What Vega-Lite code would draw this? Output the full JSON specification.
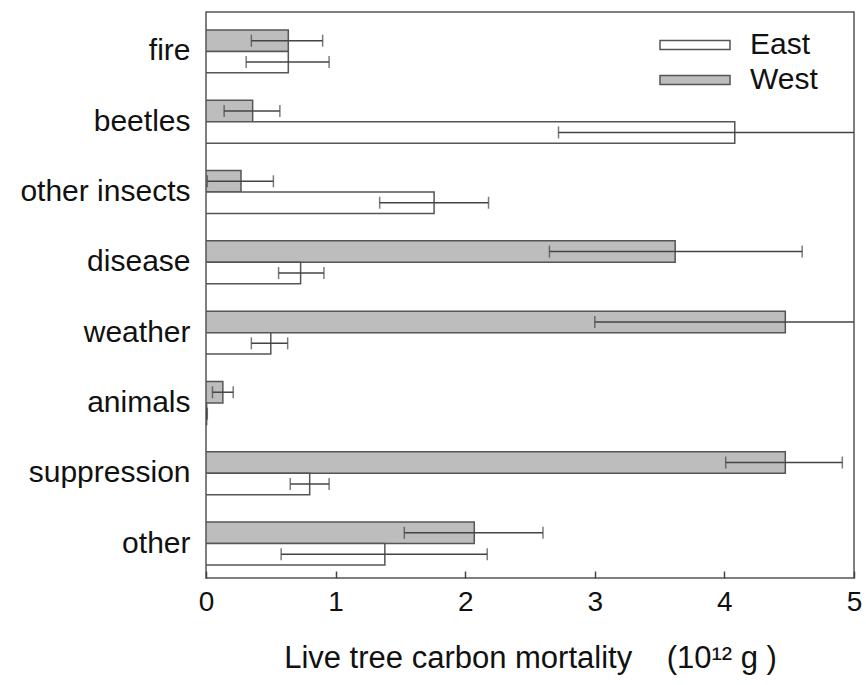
{
  "$schema": "https://vega.github.io/schema/vega-lite/v6.json",
  "width": 648,
  "height": 566,
  "autosize": {"type": "none"},
  "padding": {"left": 206, "top": 12, "right": 12, "bottom": 107},
  "background": "white",
  "config": {
    "font": "Liberation Sans",
    "view": {"stroke": "#555", "strokeWidth": 1.5},
    "axis": {"labelFont": "Liberation Sans", "titleFont": "Liberation Sans", "labelColor": "#111", "titleColor": "#111", "titleFontWeight": "normal", "grid": false}
  },
  "data": {
    "values": [
      {"cause": "fire", "region": "West", "value": 0.635, "lo": 0.35, "hi": 0.90},
      {"cause": "fire", "region": "East", "value": 0.635, "lo": 0.31, "hi": 0.95},
      {"cause": "beetles", "region": "West", "value": 0.36, "lo": 0.14, "hi": 0.57},
      {"cause": "beetles", "region": "East", "value": 4.08, "lo": 2.72, "hi": 5.44},
      {"cause": "other insects", "region": "West", "value": 0.27, "lo": 0.01, "hi": 0.52},
      {"cause": "other insects", "region": "East", "value": 1.76, "lo": 1.34, "hi": 2.18},
      {"cause": "disease", "region": "West", "value": 3.62, "lo": 2.65, "hi": 4.60},
      {"cause": "disease", "region": "East", "value": 0.73, "lo": 0.56, "hi": 0.91},
      {"cause": "weather", "region": "West", "value": 4.47, "lo": 3.00, "hi": 5.94},
      {"cause": "weather", "region": "East", "value": 0.50, "lo": 0.35, "hi": 0.63},
      {"cause": "animals", "region": "West", "value": 0.13, "lo": 0.05, "hi": 0.21},
      {"cause": "animals", "region": "East", "value": 0.005, "lo": 0.0, "hi": 0.01},
      {"cause": "suppression", "region": "West", "value": 4.47, "lo": 4.01, "hi": 4.91},
      {"cause": "suppression", "region": "East", "value": 0.80, "lo": 0.65, "hi": 0.95},
      {"cause": "other", "region": "West", "value": 2.07, "lo": 1.53, "hi": 2.60},
      {"cause": "other", "region": "East", "value": 1.38, "lo": 0.58, "hi": 2.17}
    ]
  },
  "encoding": {
    "y": {
      "field": "cause", "type": "nominal",
      "sort": ["fire", "beetles", "other insects", "disease", "weather", "animals", "suppression", "other"],
      "scale": {"paddingInner": 0.39, "paddingOuter": 0.22, "align": 0.58},
      "axis": {"title": null, "ticks": false, "domain": false, "labelFontSize": 30, "labelPadding": 16, "labelColor": "#111"}
    },
    "yOffset": {"field": "region", "type": "nominal", "sort": ["West", "East"], "scale": {"paddingInner": 0, "paddingOuter": 0}}
  },
  "layer": [
    {
      "mark": {"type": "bar", "stroke": "#555", "strokeWidth": 1.5, "clip": true},
      "encoding": {
        "x": {
          "field": "value", "type": "quantitative",
          "scale": {"domain": [0, 5], "nice": false},
          "axis": {"title": "Live tree carbon mortality\u00a0\u00a0\u00a0\u00a0(10¹² g )", "values": [0, 1, 2, 3, 4, 5], "format": "d", "tickSize": -7, "tickColor": "#444", "tickWidth": 1.5, "domain": false, "labelFontSize": 28, "labelPadding": 17, "titleFontSize": 31, "titlePadding": 27, "labelFlush": false}
        },
        "color": {
          "field": "region", "type": "nominal",
          "scale": {"domain": ["East", "West"], "range": ["#ffffff", "#bdbdbd"]},
          "legend": {
            "title": null, "orient": "none", "legendX": 479, "legendY": 18,
            "symbolType": "M-8,-0.9H6V0.9H-8Z", "symbolSize": 100,
            "symbolStrokeColor": "#555", "symbolStrokeWidth": 1.5,
            "labelFontSize": 30, "labelColor": "#111", "labelOffset": 35, "rowPadding": 5, "symbolOpacity": 1
          }
        }
      }
    },
    {
      "mark": {"type": "rule", "color": "#444", "strokeWidth": 1.5, "clip": true},
      "encoding": {
        "x": {"field": "lo", "type": "quantitative"},
        "x2": {"field": "hi"}
      }
    },
    {
      "mark": {"type": "tick", "color": "#444", "thickness": 1.5, "size": 12, "clip": true},
      "encoding": {"x": {"field": "lo", "type": "quantitative"}}
    },
    {
      "mark": {"type": "tick", "color": "#444", "thickness": 1.5, "size": 12, "clip": true},
      "encoding": {"x": {"field": "hi", "type": "quantitative"}}
    }
  ]
}
